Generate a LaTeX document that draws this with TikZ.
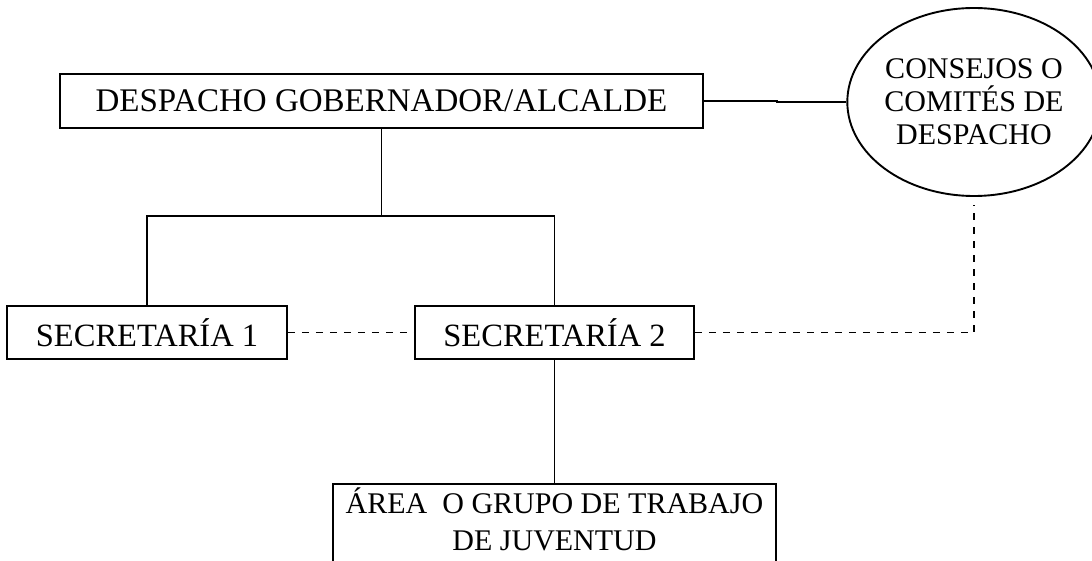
\documentclass[tikz,border=0pt]{standalone}
\usepackage{fontspec}
\setmainfont{Liberation Serif}
\usetikzlibrary{shapes.geometric}
\begin{document}
\begin{tikzpicture}[x=1pt, y=-1pt, line width=1.9pt,
    box/.style={rectangle, draw, inner sep=0pt, align=center},
    oval/.style={ellipse, draw, inner sep=0pt, align=center, minimum width=244pt, minimum height=188pt},
    bigfont/.style={font=\fontsize{33}{38}\selectfont},
    smallfont/.style={font=\fontsize{30}{33}\selectfont},
    dashline/.style={dash pattern=on 7pt off 7pt}]

    \useasboundingbox (0,0) rectangle (1092,561);

    \node[box, bigfont, minimum width=643pt, minimum height=54pt] (despacho) at (381.5,101) {DESPACHO GOBERNADOR/ALCALDE};

    \node[oval, smallfont] (consejos) at (974,102) {CONSEJOS O\\COMITÉS DE\\DESPACHO};

    \node[box, font=\fontsize{32.5}{36}\selectfont, minimum width=280pt, minimum height=53pt] (sec1) at (147,332.5) {SECRETARÍA 1};

    \node[box, font=\fontsize{32.5}{36}\selectfont, minimum width=279pt, minimum height=53pt] (sec2) at (554.5,332.5) {SECRETARÍA 2};

    \node[box, font=\fontsize{30}{37}\selectfont, minimum width=443pt, inner ysep=4pt, text depth=45pt, anchor=north] (area) at (554.5,483) {ÁREA\ \ O GRUPO DE TRABAJO\\DE JUVENTUD};

    \coordinate (bar) at (381.5,216);
    \coordinate (kink) at (777,101);

    \draw[] (despacho.south) to (bar);

    \draw[] (sec1.north) |- (bar) -| (sec2.north);

    \draw[] (sec2.south) to (area.north);

    \draw[] (despacho.east) to (kink) |- (consejos.west);

    \draw[dashline] (sec1.east) to (sec2.west);

    \draw[dashline, shorten >=8pt] (sec2.east) -| (consejos.south);

\end{tikzpicture}
\end{document}
